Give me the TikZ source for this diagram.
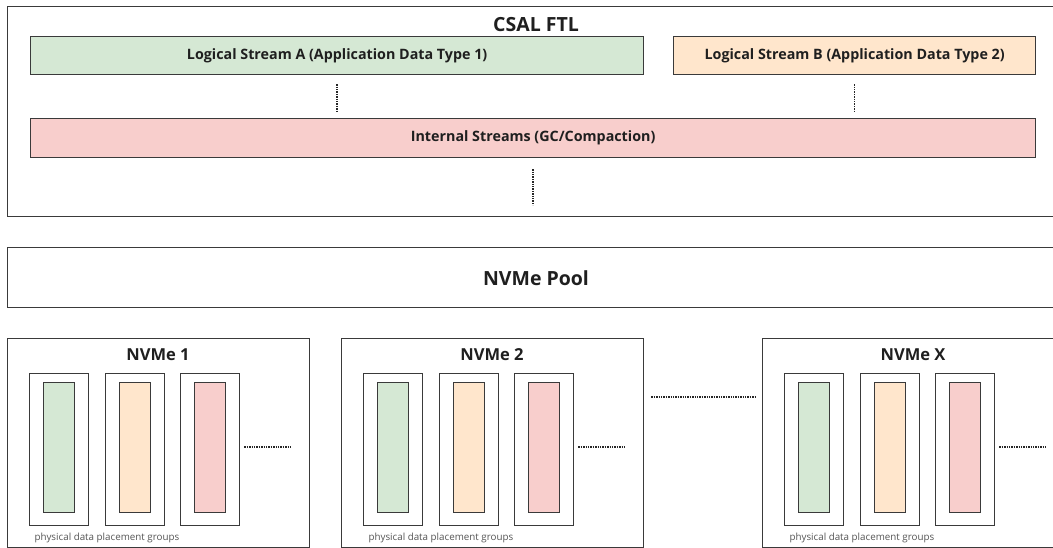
\documentclass[tikz,border=0pt]{standalone}
\usepackage{fontspec}
\setmainfont{Open Sans}
\usetikzlibrary{calc}
\definecolor{edge}{HTML}{3A3A3A}
\definecolor{fgreen}{HTML}{D5E8D4}
\definecolor{forange}{HTML}{FFE6CC}
\definecolor{fpink}{HTML}{F8CECC}
\definecolor{labelgray}{HTML}{555555}
\tikzset{
  frame/.style={draw=edge, line width=1.3pt, inner sep=0pt, anchor=north west},
  bar/.style={draw=edge, line width=1.3pt, inner sep=0pt, anchor=north west,
    font=\bfseries\fontsize{14.3}{16}\selectfont, text=black!88},
  dots/.style={line width=1.4pt, densely dotted, draw=black!85},
  title/.style={font=\bfseries\fontsize{19.5}{21}\selectfont, text=black!88},
  devtitle/.style={font=\bfseries\fontsize{16.5}{18}\selectfont, text=black!88},
  note/.style={font=\fontsize{9.8}{11}\selectfont, text=labelgray, anchor=west},
}
\begin{document}
\begin{tikzpicture}[x=1pt, y=-1pt]
\clip (0,0) rectangle (1053,548);
\fill[white] (0,0) rectangle (1053,548);

% CSAL FTL block
\node[frame, minimum width=1060pt, minimum height=210pt] (ftl) at (7,6) {};
\node[title] (ftltitle) at (536,25) {CSAL FTL};
\node[bar, fill=fgreen, minimum width=613pt, minimum height=38pt] (lsa) at (30,36)
  {Logical Stream A (Application Data Type 1)};
\node[bar, fill=forange, minimum width=362pt, minimum height=38pt] (lsb) at (673,36)
  {Logical Stream B (Application Data Type 2)};
\node[bar, fill=fpink, minimum width=1005pt, minimum height=39pt] (internal) at (30,118)
  {Internal Streams (GC/Compaction)};
\draw[dots, shorten <=9pt, shorten >=6pt] (lsa.south) -- (lsa.south |- internal.north);
\draw[dots, shorten <=9pt, shorten >=6pt] (lsb.south) -- (lsb.south |- internal.north);
\coordinate (ftlbottom) at (internal.south |- ftl.south);
\draw[dots, shorten <=11pt, shorten >=12pt] (internal.south) -- (ftlbottom);

% NVMe pool
\node[frame, minimum width=1060pt, minimum height=60pt] (pool) at (7,247) {};
\node[title] (pooltitle) at (536,278) {NVMe Pool};

% Individual devices with their placement groups
\foreach \bx/\id/\name in {7/n1/NVMe 1, 341/n2/NVMe 2, 762/nx/NVMe X}{
  \node[frame, minimum width=302pt, minimum height=209pt] (\id) at (\bx,338) {};
  \node[devtitle] (\id title) at (\bx+151,355) {\name};
  \foreach \gx/\gid/\col in {22/a/fgreen, 98/b/forange, 173/c/fpink}{
    \node[frame, minimum width=59pt, minimum height=152pt] (\id g\gid) at (\bx+\gx,373) {};
    \node[frame, fill=\col, minimum width=31pt, minimum height=130pt] (\id b\gid)
      at (\bx+\gx+14,382) {};
  }
  \coordinate (\id more) at (\bx+285,447);
  \draw[dots] (\id gc.east |- \id more) ++(4pt,0) -- (\id more);
  \node[note] (\id note) at (\bx+24,538) {physical data placement groups};
}
\coordinate (gapmid) at (0,397);
\draw[dots, shorten <=7pt, shorten >=6pt] (n2.east |- gapmid) -- (nx.west |- gapmid);
\end{tikzpicture}
\end{document}
